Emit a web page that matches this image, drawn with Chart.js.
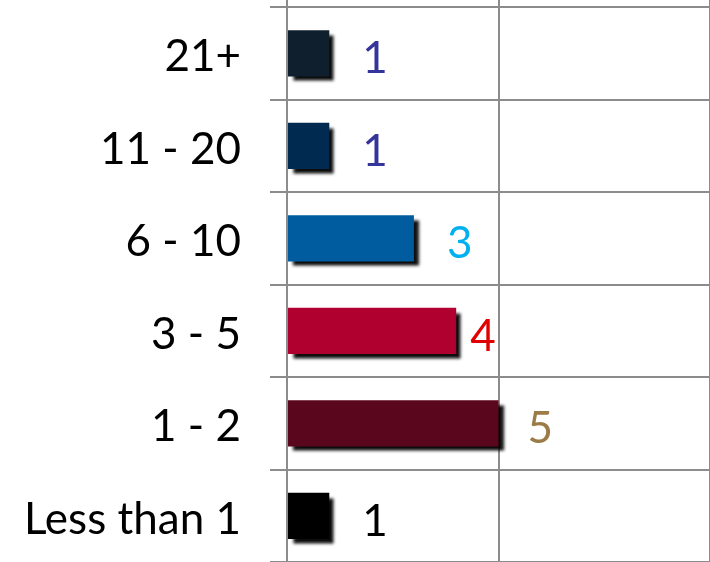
<!DOCTYPE html>
<html>
<head>
<meta charset="utf-8">
<script src="https://cdn.jsdelivr.net/npm/chart.js@4.4.1/dist/chart.umd.min.js"></script>
<style>
  html, body { margin: 0; padding: 0; background: #fff; }
  #wrap { width: 710px; height: 562px; position: relative; }
</style>
</head>
<body>
<div id="wrap"><canvas id="tenureChart"></canvas></div>
<script>
// data
var categories = ['21+', '11 - 20', '6 - 10', '3 - 5', '1 - 2', 'Less than 1'];
var counts = [1, 1, 3, 4, 5, 1];

// styling
var barColors = ['#0f1f2d', '#002a50', '#005c9e', '#b00030', '#5a061c', '#000000'];
var labelColors = ['#35349a', '#35349a', '#00b0f0', '#e00000', '#9b7b46', '#000000'];
var labelOffsets = [33, 33, 33, 14, 29, 33];
var GRID = '#8c8c8c';
var FONT = "Lato, 'Open Sans', sans-serif";

/* ============ shadow under the bars ============ */
var barShadow = {
  id: 'barShadow',
  beforeDatasetsDraw: function (chart) {
    var ctx = chart.ctx;
    ctx.save();
    ctx.shadowColor = 'rgba(0,0,0,0.95)';
    ctx.shadowOffsetX = 5;
    ctx.shadowOffsetY = 5;
    ctx.shadowBlur = 3;
  },
  afterDatasetsDraw: function (chart) {
    chart.ctx.restore();
  }
};

/* ============ value labels right of the bars ============ */
var valueLabels = {
  id: 'valueLabels',
  afterDraw: function (chart) {
    var ctx = chart.ctx;
    var meta = chart.getDatasetMeta(0);
    ctx.save();
    ctx.font = '44px ' + FONT;
    ctx.textAlign = 'left';
    ctx.textBaseline = 'middle';
    meta.data.forEach(function (bar, i) {
      ctx.fillStyle = labelColors[i];
      ctx.fillText(String(counts[i]), bar.x + labelOffsets[i], bar.y + 6);
    });
    ctx.restore();
  }
};

new Chart(document.getElementById('tenureChart'), {
  type: 'bar',
  data: {
    labels: categories,
    datasets: [{
      data: counts,
      backgroundColor: barColors,
      borderWidth: 0,
      categoryPercentage: 1,
      barPercentage: 0.5
    }]
  },
  plugins: [barShadow, valueLabels],
  options: {
    indexAxis: 'y',
    responsive: true,
    maintainAspectRatio: false,
    animation: false,
    layout: { padding: { top: 0, left: 0, right: 0, bottom: -3 } },
    plugins: { legend: { display: false }, tooltip: { enabled: false } },
    scales: {
      x: {
        position: 'top',
        min: 0,
        max: 10,
        ticks: { display: false, stepSize: 5 },
        grid: { color: GRID, lineWidth: 2, tickLength: 7, drawTicks: true },
        border: { color: GRID, width: 2 },
        afterFit: function (scale) { scale.paddingLeft = 0; scale.paddingRight = 0; }
      },
      y: {
        afterFit: function (scale) {
          scale.width = 287;
          scale.paddingTop = 0;
          scale.paddingBottom = 0;
        },
        ticks: { color: '#000', padding: 29, labelOffset: 4, font: { family: FONT, size: 44 } },
        grid: { color: GRID, lineWidth: 2, offset: true, tickLength: 17 },
        border: { color: GRID, width: 2 }
      }
    }
  }
});
</script>
</body>
</html>
